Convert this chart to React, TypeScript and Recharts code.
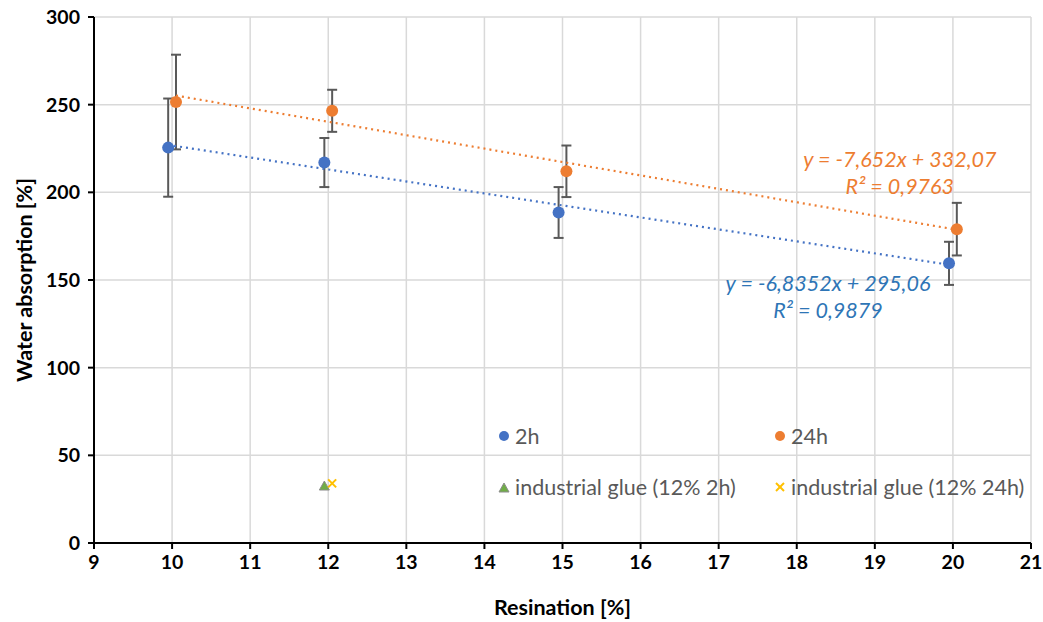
import React from "react";
import {
  ScatterChart,
  Scatter,
  XAxis,
  YAxis,
  CartesianGrid,
  ErrorBar,
} from "recharts";

// resination [%] per sample group (offsets keep the two series apart, as in the source)
const x2h = [9.95, 11.95, 14.95, 19.95];
const y2h = [225.5, 217, 188.5, 159.5];
const err2h = [28, 14, 14.5, 12.3];

const x24h = [10.05, 12.05, 15.05, 20.05];
const y24h = [251.5, 246.5, 212, 179];
const err24h = [27, 12, 14.7, 15];

const glue2h = [{ x: 11.95, y: 32.5 }];
const glue24h = [{ x: 12.05, y: 34 }];

// trendline endpoints read from the printed equations
const trendX2h = [9.95, 19.95];
const trendY2h = [227.05, 158.7];
const trendX24h = [10.05, 20.05];
const trendY24h = [255.17, 178.65];

const eqLabels = [
  { x: 19.32, y: 218.5, l1: "y = -7,652x + 332,07", l2: "R² = 0,9763", color: "#ED7D31" },
  { x: 18.4, y: 147.7, l1: "y = -6,8352x + 295,06", l2: "R² = 0,9879", color: "#2E75B6" },
];

const xTicks = [9, 10, 11, 12, 13, 14, 15, 16, 17, 18, 19, 20, 21];
const yTicks = [0, 50, 100, 150, 200, 250, 300];

const BLUE = "#4472C4";
const ORANGE = "#ED7D31";
const FONT = "Lato, 'Open Sans', sans-serif";

const data2h = x2h.map((x, i) => ({ x, y: y2h[i], err: err2h[i] }));
const data24h = x24h.map((x, i) => ({ x, y: y24h[i], err: err24h[i] }));
const trend2h = trendX2h.map((x, i) => ({ x, y: trendY2h[i] }));
const trend24h = trendX24h.map((x, i) => ({ x, y: trendY24h[i] }));

const dot = (color: string) => (p: any) => <circle cx={p.cx} cy={p.cy} r={6} fill={color} />;
const none = () => <g />;

const triangle = (p: any) => (
  <path
    d={`M${p.cx},${p.cy - 5} L${p.cx + 5},${p.cy + 4} L${p.cx - 5},${p.cy + 4} Z`}
    fill="#70AD47"
    stroke="#8c8c8c"
    strokeWidth={1}
  />
);

const cross = (p: any) => (
  <g stroke="#FFC000" strokeWidth={2}>
    <line x1={p.cx - 4} y1={p.cy - 4} x2={p.cx + 4} y2={p.cy + 4} />
    <line x1={p.cx - 4} y1={p.cy + 4} x2={p.cx + 4} y2={p.cy - 4} />
  </g>
);

const eqShape = (p: any) => {
  const d = p.payload;
  return (
    <text
      x={p.cx}
      y={p.cy}
      textAnchor="middle"
      fill={d.color}
      fontStyle="italic"
      fontSize={21.5}
      fontFamily={FONT}
    >
      <tspan x={p.cx} dy={7}>{d.l1}</tspan>
      <tspan x={p.cx} dy={27}>{d.l2}</tspan>
    </text>
  );
};

const legendText = { fontSize: 21.5, color: "#595959", fontFamily: FONT };

function LegendItem({ left, top, mark, label }: any) {
  return (
    <div style={{ position: "absolute", left, top, display: "flex", alignItems: "center", ...legendText }}>
      <span style={{ width: 16, display: "inline-flex", justifyContent: "center", marginRight: 3 }}>{mark}</span>
      {label}
    </div>
  );
}

export default function App() {
  const tick = { fontSize: 19.5, fontWeight: 700, fill: "#000", fontFamily: FONT };
  return (
    <div style={{ position: "absolute", left: 0, top: 0, width: 1043, height: 622, background: "#fff" }}>
      <ScatterChart width={1043} height={622} margin={{ top: 17, right: 12, bottom: 0, left: 0 }}>
        <CartesianGrid stroke="#d9d9d9" strokeWidth={1.5} />
        <XAxis
          type="number"
          dataKey="x"
          domain={[9, 21]}
          ticks={xTicks}
          height={79}
          tick={tick}
          tickSize={6}
          tickMargin={6}
          stroke="#000"
          strokeWidth={2}
          label={{ value: "Resination [%]", position: "insideBottom", offset: 7, fontSize: 21.5, fontWeight: 700, fill: "#000", fontFamily: FONT }}
        />
        <YAxis
          type="number"
          dataKey="y"
          domain={[0, 300]}
          ticks={yTicks}
          width={94}
          tick={tick}
          tickSize={6}
          tickMargin={8}
          stroke="#000"
          strokeWidth={2}
          label={{ value: "Water absorption [%]", angle: -90, position: "insideLeft", offset: 24, fontSize: 21.5, fontWeight: 700, fill: "#000", fontFamily: FONT, style: { textAnchor: "middle" } }}
        />
        <Scatter data={trend2h} line={{ stroke: BLUE, strokeWidth: 2.2, strokeDasharray: "2 4" }} shape={none} isAnimationActive={false} />
        <Scatter data={trend24h} line={{ stroke: ORANGE, strokeWidth: 2.2, strokeDasharray: "2 4" }} shape={none} isAnimationActive={false} />
        <Scatter data={data2h} shape={dot(BLUE)} isAnimationActive={false}>
          <ErrorBar dataKey="err" direction="y" width={5} stroke="#595959" strokeWidth={2} />
        </Scatter>
        <Scatter data={data24h} shape={dot(ORANGE)} isAnimationActive={false}>
          <ErrorBar dataKey="err" direction="y" width={5} stroke="#595959" strokeWidth={2} />
        </Scatter>
        <Scatter data={glue2h} shape={triangle} isAnimationActive={false} />
        <Scatter data={glue24h} shape={cross} isAnimationActive={false} />
        <Scatter data={eqLabels} shape={eqShape} isAnimationActive={false} />
      </ScatterChart>
      <LegendItem left={496} top={423} mark={<svg width="12" height="12"><circle cx="6" cy="6" r="5" fill={BLUE} /></svg>} label="2h" />
      <LegendItem left={772} top={423} mark={<svg width="12" height="12"><circle cx="6" cy="6" r="5" fill={ORANGE} /></svg>} label="24h" />
      <LegendItem left={496} top={474} mark={<svg width="12" height="12"><path d="M6,2 L11,11 L1,11 Z" fill="#70AD47" stroke="#8c8c8c" strokeWidth="1" /></svg>} label="industrial glue (12% 2h)" />
      <LegendItem left={772} top={474} mark={<svg width="12" height="12"><g stroke="#FFC000" strokeWidth="2"><line x1="2" y1="2" x2="10" y2="10" /><line x1="2" y1="10" x2="10" y2="2" /></g></svg>} label="industrial glue (12% 24h)" />
    </div>
  );
}
